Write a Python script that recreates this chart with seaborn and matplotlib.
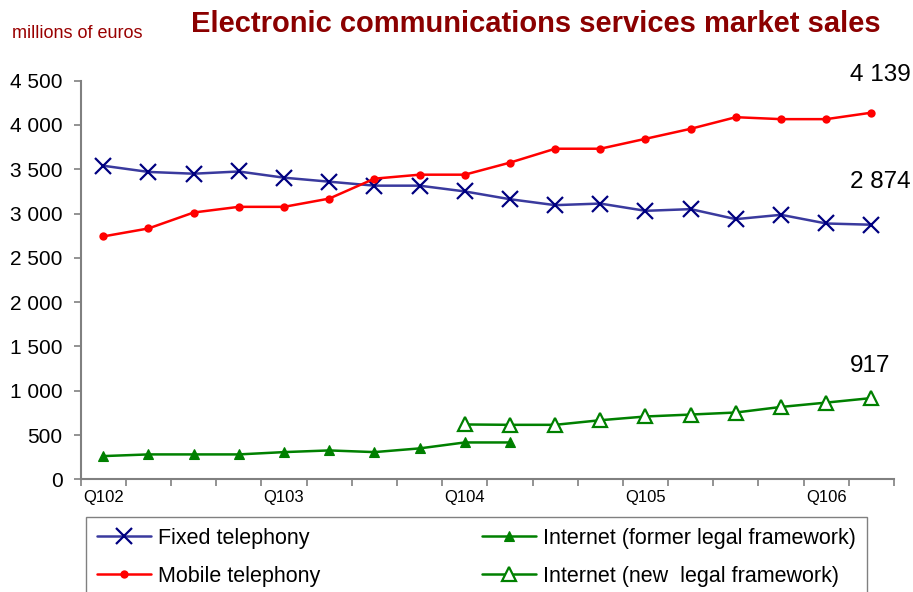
import numpy as np
import pandas as pd
import matplotlib
matplotlib.use("Agg")
import matplotlib.pyplot as plt
import seaborn as sns

quarters = ["Q102", "Q202", "Q302", "Q402", "Q103", "Q203", "Q303", "Q403",
            "Q104", "Q204", "Q304", "Q404", "Q105", "Q205", "Q305", "Q405",
            "Q106", "Q206"]
tick_labels = ["Q102", "Q103", "Q104", "Q105", "Q106"]

fixed = [3540, 3470, 3450, 3475, 3405, 3360, 3315, 3315, 3250, 3162,
         3095, 3113, 3031, 3050, 2937, 2986, 2888, 2874]
mobile = [2742, 2832, 3012, 3076, 3076, 3169, 3394, 3439, 3439, 3575,
          3732, 3732, 3844, 3957, 4088, 4066, 4066, 4139]
internet_former = [262, 281, 281, 281, 307, 326, 307, 349, 416, 416]
internet_new = [619, 615, 615, 667, 709, 731, 754, 817, 866, 917]
new_start = 8

labels = ["Fixed telephony", "Mobile telephony",
          "Internet (former legal framework)", "Internet (new  legal framework)"]

sns.set_style("white")
plt.rcParams['font.family'] = ['Liberation Sans', 'DejaVu Sans']
plt.rcParams['text.color'] = 'black'
plt.rcParams['xtick.labelcolor'] = 'black'
plt.rcParams['ytick.labelcolor'] = 'black'

fig = plt.figure(figsize=(9.13, 5.92), dpi=100)
ax = fig.add_axes([80.7 / 913, 112.7 / 592, (894 - 80.7) / 913, (479.3 - 80.7) / 592])

x_all = np.arange(len(quarters))
navy = "#000080"
lineblue = "#3a3a9e"
red = "#FF0000"
green = "#008000"

sns.lineplot(x=x_all, y=fixed, ax=ax, color=lineblue, lw=1.8, marker="x",
             markersize=11, markeredgewidth=1.6, markeredgecolor=navy,
             label=labels[0], legend=False)
sns.lineplot(x=x_all, y=mobile, ax=ax, color=red, lw=1.8, marker="o",
             markersize=6, markeredgewidth=0, markerfacecolor=red,
             label=labels[1], legend=False)
sns.lineplot(x=x_all[:len(internet_former)], y=internet_former, ax=ax, color=green,
             lw=1.8, marker="^", markersize=7.5, markeredgewidth=0.8,
             markerfacecolor=green, markeredgecolor=green,
             label=labels[2], legend=False)
sns.lineplot(x=x_all[new_start:new_start + len(internet_new)], y=internet_new, ax=ax,
             color=green, lw=1.8, marker="^", markersize=10, markeredgewidth=1.6,
             markerfacecolor="white", markeredgecolor=green,
             label=labels[3], legend=False)

ax.set_xlim(-0.5, len(quarters) - 0.5)
ax.set_ylim(0, 4500)
ax.set_xlabel("")
ax.set_ylabel("")

# y axis
yt = np.arange(0, 4501, 500)
ax.set_yticks(yt)
ax.set_yticklabels([f"{v:,}".replace(",", " ") for v in yt])
ax.tick_params(axis="y", which="major", direction="out", length=5, width=1.2,
               color="#808080", labelsize=15, pad=8, left=True, labelcolor="black")

# x axis: boundary ticks, labels at yearly Q1
ax.set_xticks(np.arange(-0.5, len(quarters)), labels=[""] * (len(quarters) + 1))
ax.tick_params(axis="x", which="major", direction="out", length=5, width=1.2,
               color="#808080", bottom=True)
ax.set_xticks([quarters.index(t) for t in tick_labels], minor=True)
ax.set_xticklabels(tick_labels, minor=True)
ax.tick_params(axis="x", which="minor", length=0, labelsize=12, pad=8,
               labelcolor="black")

for s in ["top", "right"]:
    ax.spines[s].set_visible(False)
for s in ["left", "bottom"]:
    ax.spines[s].set_color("#808080")
    ax.spines[s].set_linewidth(1.5)

# end value annotations
last = len(quarters) - 1
ax.annotate("4 139", xy=(last, mobile[-1]), xytext=(6.5, 27),
            textcoords="offset points", fontsize=17.5, ha="center", va="center",
            color="black")
ax.annotate("2 874", xy=(last, fixed[-1]), xytext=(6.5, 31),
            textcoords="offset points", fontsize=17.5, ha="center", va="center",
            color="black")
ax.annotate("917", xy=(last, internet_new[-1]), xytext=(-1, 23),
            textcoords="offset points", fontsize=17.5, ha="center", va="center",
            color="black")

# titles
darkred = "#8B0000"
fig.text(536 / 913, 1 - 24 / 592, "Electronic communications services market sales",
         fontsize=21, fontweight="bold", color=darkred, ha="center", va="center")
fig.text(12 / 913, 1 - 33 / 592, "millions of euros", fontsize=13, color="#990000",
         ha="left", va="center")

# legend
handles, lbls = ax.get_legend_handles_labels()
leg = fig.legend(handles, lbls, ncol=2, loc="upper left",
                 bbox_to_anchor=(86 / 913, 1 - 517 / 592),
                 fontsize=15.5, frameon=True, fancybox=False,
                 edgecolor="#606060", handlelength=2.5, handletextpad=0.35,
                 columnspacing=7.5, borderaxespad=0, borderpad=0.5,
                 labelspacing=0.8)
leg.get_frame().set_linewidth(1.0)
for t in leg.get_texts():
    t.set_color("black")

fig.savefig("out.png", dpi=100)
